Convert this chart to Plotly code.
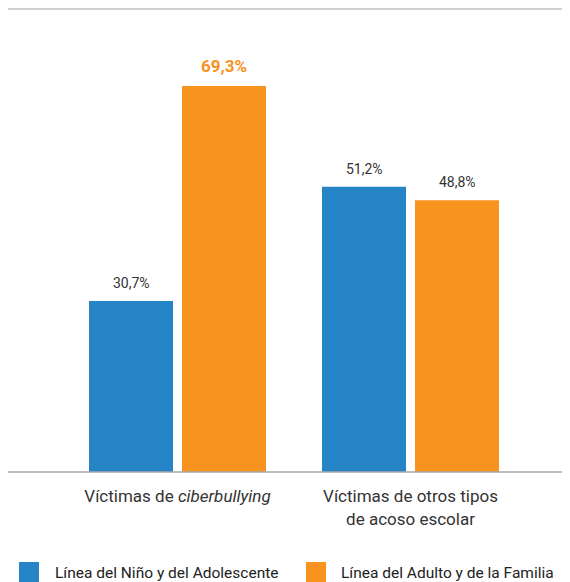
import plotly.graph_objects as go

categories = ["Víctimas de <i>ciberbullying</i>", "Víctimas de otros tipos<br>de acoso escolar"]
series_names = ["Línea del Niño y del Adolescente", "Línea del Adulto y de la Familia"]
nino_values = [30.7, 51.2]
adulto_values = [69.3, 48.8]
value_labels_nino = ["30,7%", "51,2%"]
value_labels_adulto = ["69,3%", "48,8%"]

BLUE = "#2484C6"
ORANGE = "#F7931E"
FONT = "Roboto"

# page body has an 8px margin, so the figure is 8px smaller and offset
OFF = 8
W, H = 570 - OFF, 582 - OFF
T = 1
BASE = 472 - OFF
B = H - BASE
plot_h = BASE - T
px_per_unit = 386 / 69.3
y_max = plot_h / px_per_unit

fig = go.Figure()
fig.add_trace(go.Bar(x=[0, 1], y=nino_values, name=series_names[0],
                     marker=dict(color=BLUE, line=dict(width=0)), showlegend=False,
                     hoverinfo="skip"))
fig.add_trace(go.Bar(x=[0, 1], y=adulto_values, name=series_names[1],
                     marker=dict(color=ORANGE, line=dict(width=0)), showlegend=False,
                     hoverinfo="skip"))

slot_px = 93
annotations = []
for i in range(2):
    annotations.append(dict(x=i, y=nino_values[i], xref="x", yref="y",
                            text=value_labels_nino[i], showarrow=False,
                            xanchor="center", yanchor="bottom", xshift=-slot_px / 2, yshift=8,
                            font=dict(family=FONT, size=14, color="#333333")))
    if i == 0:
        f = dict(family=FONT, size=17, color=ORANGE, weight="bold")
    else:
        f = dict(family=FONT, size=14, color="#333333")
    annotations.append(dict(x=i, y=adulto_values[i], xref="x", yref="y",
                            text=value_labels_adulto[i], showarrow=False,
                            xanchor="center", yanchor="bottom", xshift=slot_px / 2, yshift=8,
                            font=f))

def py(pix):
    return (BASE - (pix - OFF)) / plot_h

def px(pix):
    return (pix - OFF) / W

legend_items = [(series_names[0], BLUE, 19, 55), (series_names[1], ORANGE, 306, 341)]
shapes = []
for name, col, sx, tx in legend_items:
    shapes.append(dict(type="rect", xref="paper", yref="paper",
                       x0=px(sx), x1=px(sx + 20), y0=py(582), y1=py(562),
                       fillcolor=col, line=dict(width=0)))
    annotations.append(dict(x=px(tx), y=py(573), xref="paper", yref="paper",
                            text=name, showarrow=False, xanchor="left", yanchor="middle",
                            xshift=-2,
                            font=dict(family=FONT, size=15.5, color="#222222")))

shapes.append(dict(type="line", xref="paper", yref="paper", x0=0, x1=1, y0=1, y1=1,
                   line=dict(color="#d2d2d2", width=2)))
shapes.append(dict(type="line", xref="paper", yref="paper", x0=0, x1=1, y0=0, y1=0,
                   line=dict(color="#aaaaaa", width=1.5)))

c0, spacing = 177.5 - OFF, 233.0
fig.update_layout(
    width=W, height=H,
    margin=dict(l=0, r=0, t=T, b=B),
    paper_bgcolor="white", plot_bgcolor="white",
    barmode="group",
    bargap=1 - 2 * slot_px / spacing,
    bargroupgap=9 / slot_px,
    xaxis=dict(range=[-c0 / spacing, (W - c0) / spacing],
               tickvals=[0, 1], ticktext=categories,
               showgrid=False, zeroline=False, showline=False,
               ticks="outside", ticklen=9, tickcolor="rgba(0,0,0,0)",
               tickfont=dict(family=FONT, size=17, color="#333333")),
    yaxis=dict(range=[0, y_max], visible=False, showgrid=False, zeroline=False),
    annotations=annotations,
    shapes=shapes,
    font=dict(family=FONT),
)

fig.write_html("out.html")
